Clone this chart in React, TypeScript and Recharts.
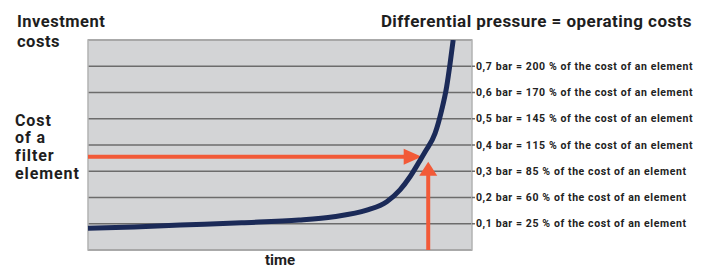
import React from 'react';
import { LineChart, Line, XAxis, YAxis, CartesianGrid, ReferenceLine, ReferenceArea } from 'recharts';

// time (arbitrary units 0..100) and differential pressure (bar)
const times = [0, 12, 24, 40, 55, 64, 72.6, 77.8, 81.25, 83.85, 86, 87.8, 90.4, 92.1, 93.4, 94.3, 95.1];
const pressure = [0.083, 0.088, 0.095, 0.104, 0.114, 0.127, 0.152, 0.184, 0.229, 0.279, 0.33, 0.374, 0.445, 0.533, 0.622, 0.711, 0.8];

const pressureTicks = [0.1, 0.2, 0.3, 0.4, 0.5, 0.6, 0.7];
const costPercents = [25, 60, 85, 115, 145, 170, 200];
const tickLabels = pressureTicks.map(
  (p, i) => `0,${Math.round(p * 10)} bar = ${costPercents[i]} % of the cost of an element`
);

const elementCost = 0.355; // level of "cost of a filter element"
const arrowEndTime = 86.9;
const changeTime = 88.6;
const changePressure = 0.336;

const data = times.map((t, i) => ({ t, v: pressure[i] }));

const NAVY = '#1b2a58';
const ORANGE = '#f25a38';
const FONT = 'Roboto, "Noto Sans", sans-serif';

const HArrow = (p: any) => {
  const { x1, y1, x2, y2 } = p;
  const head = 18;
  return (
    <g>
      <line x1={x1} y1={y1} x2={x2 - head + 2} y2={y2} stroke={ORANGE} strokeWidth={4} />
      <polygon points={`${x2},${y2} ${x2 - head},${y2 - 8} ${x2 - head},${y2 + 8}`} fill={ORANGE} />
    </g>
  );
};

const VArrow = (p: any) => {
  const { x1, y1, x2, y2 } = p;
  const top = Math.min(y1, y2);
  const bottom = Math.max(y1, y2);
  const head = 14;
  return (
    <g>
      <line x1={x1} y1={bottom} x2={x2} y2={top + head - 2} stroke={ORANGE} strokeWidth={4} />
      <polygon points={`${x2},${top} ${x2 - 9},${top + head} ${x2 + 9},${top + head}`} fill={ORANGE} />
    </g>
  );
};

const PressureTick = (p: any) => {
  const { x, y, index } = p;
  return (
    <text x={x} y={y} dy="0.355em" textAnchor="start" fontSize={10.5} fontWeight={700} letterSpacing={0.6} fill="#222" fontFamily={FONT}>
      {tickLabels[index]}
    </text>
  );
};

export default function App() {
  return (
    <div style={{ position: 'absolute', left: 0, top: 0, width: 708, height: 270, fontFamily: FONT, color: '#1e1e1e' }}>
      <LineChart width={708} height={270} data={data} margin={{ top: 40, right: 0, bottom: 20, left: 88 }}>
        <CartesianGrid vertical={false} fill="#d3d4d6" stroke="#6c6c6c" strokeWidth={1.5} />
        <ReferenceArea x1={0} x2={100} y1={0} y2={0.8} fill="none" stroke="#b2b2b2" strokeWidth={1.5} />
        <XAxis dataKey="t" type="number" domain={[0, 100]} hide />
        <YAxis
          orientation="right"
          type="number"
          domain={[0, 0.8]}
          ticks={pressureTicks}
          interval={0}
          width={236}
          axisLine={false}
          tickLine={{ stroke: '#6c6c6c', strokeWidth: 1.5 }}
          tickSize={3}
          tickMargin={1}
          tick={PressureTick}
          allowDataOverflow
        />
        <ReferenceLine
          segment={[{ x: 0, y: elementCost }, { x: arrowEndTime, y: elementCost }]}
          shape={HArrow}
        />
        <ReferenceLine
          segment={[{ x: changeTime, y: 0 }, { x: changeTime, y: changePressure }]}
          shape={VArrow}
        />
        <Line type="monotone" dataKey="v" stroke={NAVY} strokeWidth={5} dot={false} isAnimationActive={false} />
      </LineChart>
      <div style={{ position: 'absolute', left: 17, top: 12, fontSize: 16.5, fontWeight: 700, lineHeight: '20px', letterSpacing: 0.5 }}>
        Investment<br />costs
      </div>
      <div style={{ position: 'absolute', left: 15, top: 111.6, fontSize: 16, fontWeight: 700, lineHeight: '17.7px', letterSpacing: 0.9 }}>
        Cost<br />of a<br />filter<br />element
      </div>
      <div style={{ position: 'absolute', right: 16, top: 11, fontSize: 17, fontWeight: 700, lineHeight: '20px', letterSpacing: 0.45, whiteSpace: 'nowrap' }}>
        Differential pressure = operating costs
      </div>
      <div style={{ position: 'absolute', left: 230, width: 100, textAlign: 'center', top: 250, fontSize: 15, fontWeight: 700, lineHeight: '20px' }}>
        time
      </div>
    </div>
  );
}
